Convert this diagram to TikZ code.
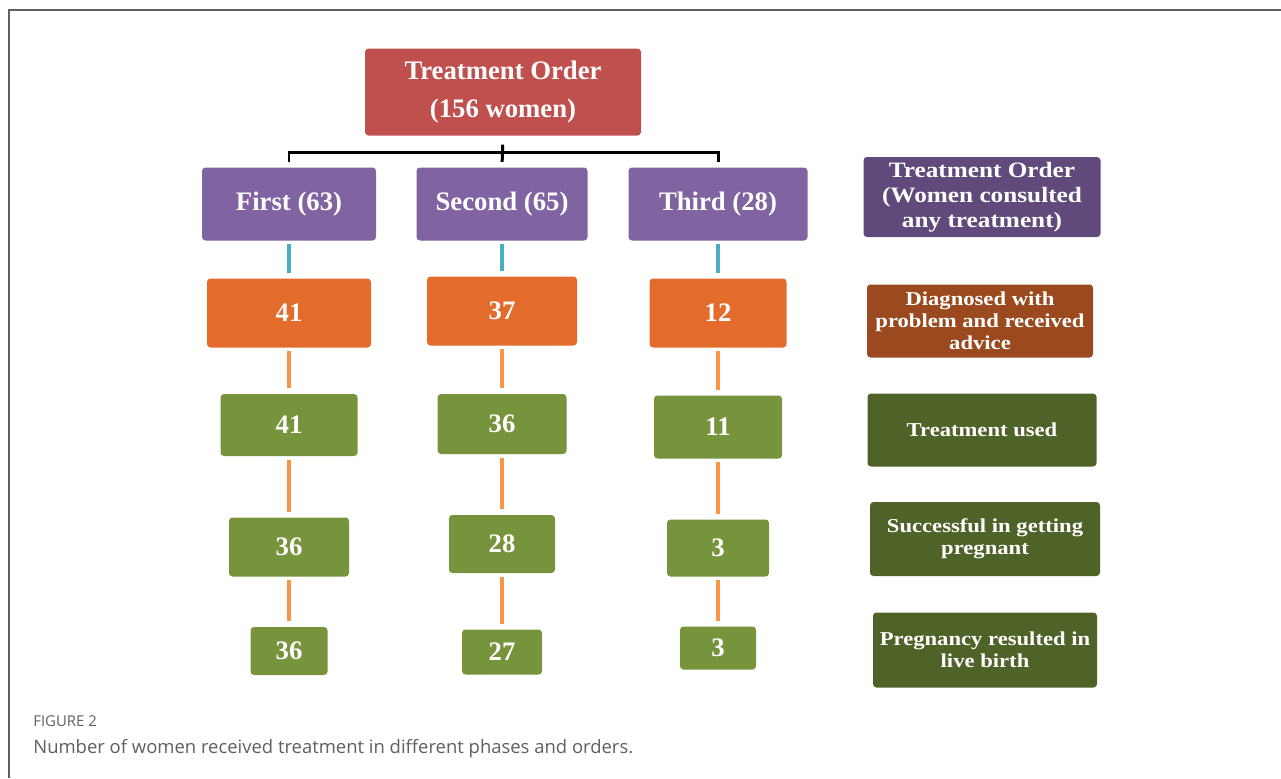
\documentclass[tikz,border=0pt]{standalone}
\usepackage{fontspec}
\setmainfont{Liberation Serif}
\newfontfamily\legfont[FakeStretch=1.15]{Liberation Serif Bold}
\newfontfamily\capfont{Open Sans}
\usetikzlibrary{positioning}
\newcommand{\pxu}{0.02cm}
\definecolor{boxred}{RGB}{192,80,77}
\definecolor{boxpurple}{RGB}{128,100,162}
\definecolor{boxorange}{RGB}{227,108,45}
\definecolor{boxgreen}{RGB}{119,147,60}
\definecolor{lgpurple}{RGB}{96,74,123}
\definecolor{lgbrown}{RGB}{154,74,30}
\definecolor{lggreen}{RGB}{79,98,40}
\definecolor{lineblue}{RGB}{75,172,198}
\definecolor{lineorange}{RGB}{247,150,70}
\definecolor{capgrey}{RGB}{95,95,95}
\tikzstyle{box} = [align=center,rounded corners=2pt,inner sep=0,text=white,font=\bfseries\fontsize{15.2}{21.5}\selectfont]
\tikzstyle{lgnd} = [box,font=\legfont\fontsize{11.2}{12.6}\selectfont]
\tikzstyle{bracket} = [draw=black,line width=1.7pt]
\tikzstyle{blueline} = [draw=lineblue,line width=2.2pt,shorten <=2pt,shorten >=3pt]
\tikzstyle{orangeline} = [draw=lineorange,line width=2.2pt,shorten <=2pt,shorten >=3pt]

\begin{document}
\begin{tikzpicture}[x=0.02cm,y=-0.02cm]
    \useasboundingbox (0,0) rectangle (1281,778);
    \draw [capgrey,line width=0.8pt] (1281,10) -- (9,10) -- (9,778);

    % root and orders
    \node [box,fill=boxred,minimum width=276*\pxu,minimum height=87*\pxu] (r0) at (503,92) {Treatment Order\\(156 women)};
    \node [box,fill=boxpurple,minimum width=174*\pxu,minimum height=73*\pxu] (p1) at (289,204) {First (63)};
    \node [box,fill=boxpurple,minimum width=171*\pxu,minimum height=73*\pxu] (p2) at (502,204) {Second (65)};
    \node [box,fill=boxpurple,minimum width=179*\pxu,minimum height=73*\pxu] (p3) at (718,204) {Third (28)};

    % diagnosed
    \node [box,fill=boxorange,minimum width=164*\pxu,minimum height=69*\pxu] (d1) at (289,313) {41};
    \node [box,fill=boxorange,minimum width=150*\pxu,minimum height=69*\pxu] (d2) at (502,311) {37};
    \node [box,fill=boxorange,minimum width=137*\pxu,minimum height=69*\pxu] (d3) at (718,313) {12};

    % used
    \node [box,fill=boxgreen,minimum width=137*\pxu,minimum height=62*\pxu] (u1) at (289,425) {41};
    \node [box,fill=boxgreen,minimum width=129*\pxu,minimum height=60*\pxu] (u2) at (502,424) {36};
    \node [box,fill=boxgreen,minimum width=128*\pxu,minimum height=63*\pxu] (u3) at (718,427) {11};

    % pregnant
    \node [box,fill=boxgreen,minimum width=120*\pxu,minimum height=59*\pxu] (s1) at (289,547) {36};
    \node [box,fill=boxgreen,minimum width=106*\pxu,minimum height=58*\pxu] (s2) at (502,544) {28};
    \node [box,fill=boxgreen,minimum width=102*\pxu,minimum height=57*\pxu] (s3) at (718,548) {3};

    % live birth
    \node [box,fill=boxgreen,minimum width=77*\pxu,minimum height=48*\pxu] (b1) at (289,651) {36};
    \node [box,fill=boxgreen,minimum width=80*\pxu,minimum height=45*\pxu] (b2) at (502,652) {27};
    \node [box,fill=boxgreen,minimum width=76*\pxu,minimum height=43*\pxu] (b3) at (718,648) {3};

    % legend
    \node [lgnd,fill=lgpurple,minimum width=237*\pxu,minimum height=80*\pxu,font=\legfont\fontsize{12.5}{14.2}\selectfont] (k1) at (982,197) {Treatment Order\\(Women consulted\\any treatment)};
    \node [lgnd,fill=lgbrown,minimum width=226*\pxu,minimum height=73*\pxu] (k2) at (980,321) {Diagnosed with\\problem and received\\advice};
    \node [lgnd,fill=lggreen,minimum width=229*\pxu,minimum height=73*\pxu] (k3) at (982,430) {Treatment used};
    \node [lgnd,fill=lggreen,minimum width=230*\pxu,minimum height=74*\pxu] (k4) at (985,539) {Successful in getting\\pregnant};
    \node [lgnd,fill=lggreen,minimum width=224*\pxu,minimum height=75*\pxu] (k5) at (985,650) {Pregnancy resulted in\\live birth};

    \draw [bracket,shorten <=5pt,shorten >=3pt] (r0.south) -- (p2.north);
    \draw [bracket] ([yshift=3pt]p1.north) -- ([yshift=8.5pt]p1.north) -| ([yshift=3pt]p3.north);

    \foreach \c in {1,2,3} {
      \draw [blueline] (p\c) -- (d\c);
      \draw [orangeline] (d\c) -- (u\c);
      \draw [orangeline] (u\c) -- (s\c);
      \draw [orangeline] (s\c) -- (b\c);
    }

    % caption
    \node [anchor=base west,inner sep=0,text=capgrey,font=\capfont\fontsize{8.5}{10}\selectfont] (fig) at (33,726) {FIGURE 2};
    \node [anchor=base west,inner sep=0,text=capgrey,font=\capfont\fontsize{10.5}{12}\selectfont] (cap) at (33,753) {Number of women received treatment in different phases and orders.};
\end{tikzpicture}
\end{document}
